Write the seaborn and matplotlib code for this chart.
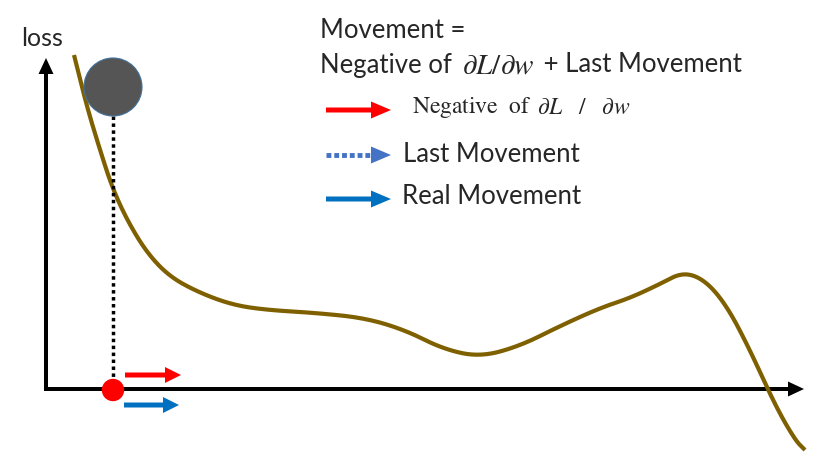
import numpy as np
import matplotlib
matplotlib.use("Agg")
import matplotlib.pyplot as plt
import seaborn as sns
import pandas as pd

# loss curve (pixel-like units, y grows downward)
curve_x = [74, 87, 100, 112, 127, 147, 170, 200, 233, 267, 317, 365, 405, 443,
           480, 520, 560, 600, 630, 660, 683, 705, 727, 750, 775, 795, 805]
curve_y = [55, 107, 150, 187, 220, 253, 277, 293, 305, 310, 313, 318, 330, 349,
           357, 346, 326, 308, 298, 284, 272, 280, 306, 350, 405, 440, 450]

# ball / point position on x
ball_x, ball_y, ball_r = 113, 87, 29
point_x = 113

# legend entries
legend_labels = ["Negative of", "Last Movement", "Real Movement"]
legend_colors = ["#ff0000", "#4472c4", "#0070c0"]
legend_rows = [110, 155, 199]


def smooth(xs, ys, rounds=4):
    # chaikin corner cutting, only to draw the stroke without corners
    p = np.column_stack([xs, ys]).astype(float)
    for _ in range(rounds):
        q = 0.75 * p[:-1] + 0.25 * p[1:]
        r = 0.25 * p[:-1] + 0.75 * p[1:]
        mid = np.empty((2 * len(q), 2))
        mid[0::2] = q
        mid[1::2] = r
        p = np.vstack([p[0], mid, p[-1]])
    return p[:, 0], p[:, 1]


sns.set_style("white")
plt.rcParams["font.family"] = ["Lato", "DejaVu Sans"]
plt.rcParams["mathtext.fontset"] = "stix"

fig = plt.figure(figsize=(8.16, 4.69), dpi=100)
ax = fig.add_axes([0, 0, 1, 1])

# loss curve
sx, sy = smooth(curve_x, curve_y)
df = pd.DataFrame({"x": sx, "y": sy})
sns.lineplot(data=df, x="x", y="y", sort=False, color="#7f6000", lw=3.0, ax=ax,
             solid_capstyle="butt")
ax.set_xlim(0, 816)
ax.set_ylim(469, 0)
ax.axis("off")

# axes arrows
x0, y0 = 46, 389
ax.arrow(x0, y0, 0, 58 - y0, width=4, head_width=15, head_length=16,
         length_includes_head=True, color="black", lw=0)
ax.arrow(x0 - 2, y0, 806 - x0, 0, width=4, head_width=15, head_length=16,
         length_includes_head=True, color="black", lw=0)
ax.text(21, 38, "loss", fontsize=18, va="center", ha="left")

# ball and projection
ax.add_patch(plt.Circle((ball_x, ball_y), ball_r, facecolor="#555555",
                        edgecolor="#41719c", lw=0.8, zorder=4))
ax.plot([point_x, point_x], [ball_y + ball_r, y0 - 4], color="black", lw=2.5,
        ls=(0, (1, 1)), zorder=3)
sns.scatterplot(x=[point_x], y=[y0 + 1], s=260, color="#ff0000", edgecolor="none",
                ax=ax, zorder=5)
ax.set_xlim(0, 816)
ax.set_ylim(469, 0)

# movement arrows at the point
ax.arrow(125, 375, 56, 0, width=5, head_width=16, head_length=16,
         length_includes_head=True, color="#ff0000", lw=0)
ax.arrow(124, 405, 55, 0, width=5, head_width=16, head_length=16,
         length_includes_head=True, color="#0070c0", lw=0)

# legend block
ax.text(320, 31, "Movement =", fontsize=18.5, va="center", ha="left")

# second line is built from pieces so the math part can be larger
renderer = fig.canvas.get_renderer()
xpos = 320
for piece, size in [("Negative of ", 18.5), (r"$\partial L/\partial w$", 21),
                    (" + Last Movement", 18.5)]:
    t = ax.text(xpos, 65, piece, fontsize=size, va="center", ha="left")
    bb = t.get_window_extent(renderer)
    xpos = ax.transData.inverted().transform((bb.x1, bb.y0))[0] + 3

lx0, lx1 = 326, 391
ax.arrow(lx0, legend_rows[0], lx1 - lx0, 0, width=5, head_width=17, head_length=20,
         length_includes_head=True, color=legend_colors[0], lw=0)
ax.text(412, legend_rows[0] - 2, r"$\mathrm{Negative\ \ of}$",
        fontsize=17, va="center", ha="left")
ax.text(537, legend_rows[0] - 2, r"$\partial L\ \ \ /\ \ \ \partial w$",
        fontsize=17, va="center", ha="left")

ax.plot([lx0, lx1 - 18], [legend_rows[1]] * 2, color=legend_colors[1], lw=3.5,
        ls=(0, (1, 0.6)), solid_capstyle="butt", dash_capstyle="butt")
ax.arrow(lx1 - 20, legend_rows[1], 20, 0, width=0.1, head_width=17, head_length=20,
         length_includes_head=True, color=legend_colors[1], lw=0)
ax.text(403, legend_rows[1], legend_labels[1], fontsize=18.5, va="center", ha="left")

ax.arrow(lx0, legend_rows[2], lx1 - lx0, 0, width=5, head_width=17, head_length=20,
         length_includes_head=True, color=legend_colors[2], lw=0)
ax.text(402, legend_rows[2] - 2, legend_labels[2], fontsize=18.5, va="center",
        ha="left")

fig.savefig("out.png", dpi=100)
